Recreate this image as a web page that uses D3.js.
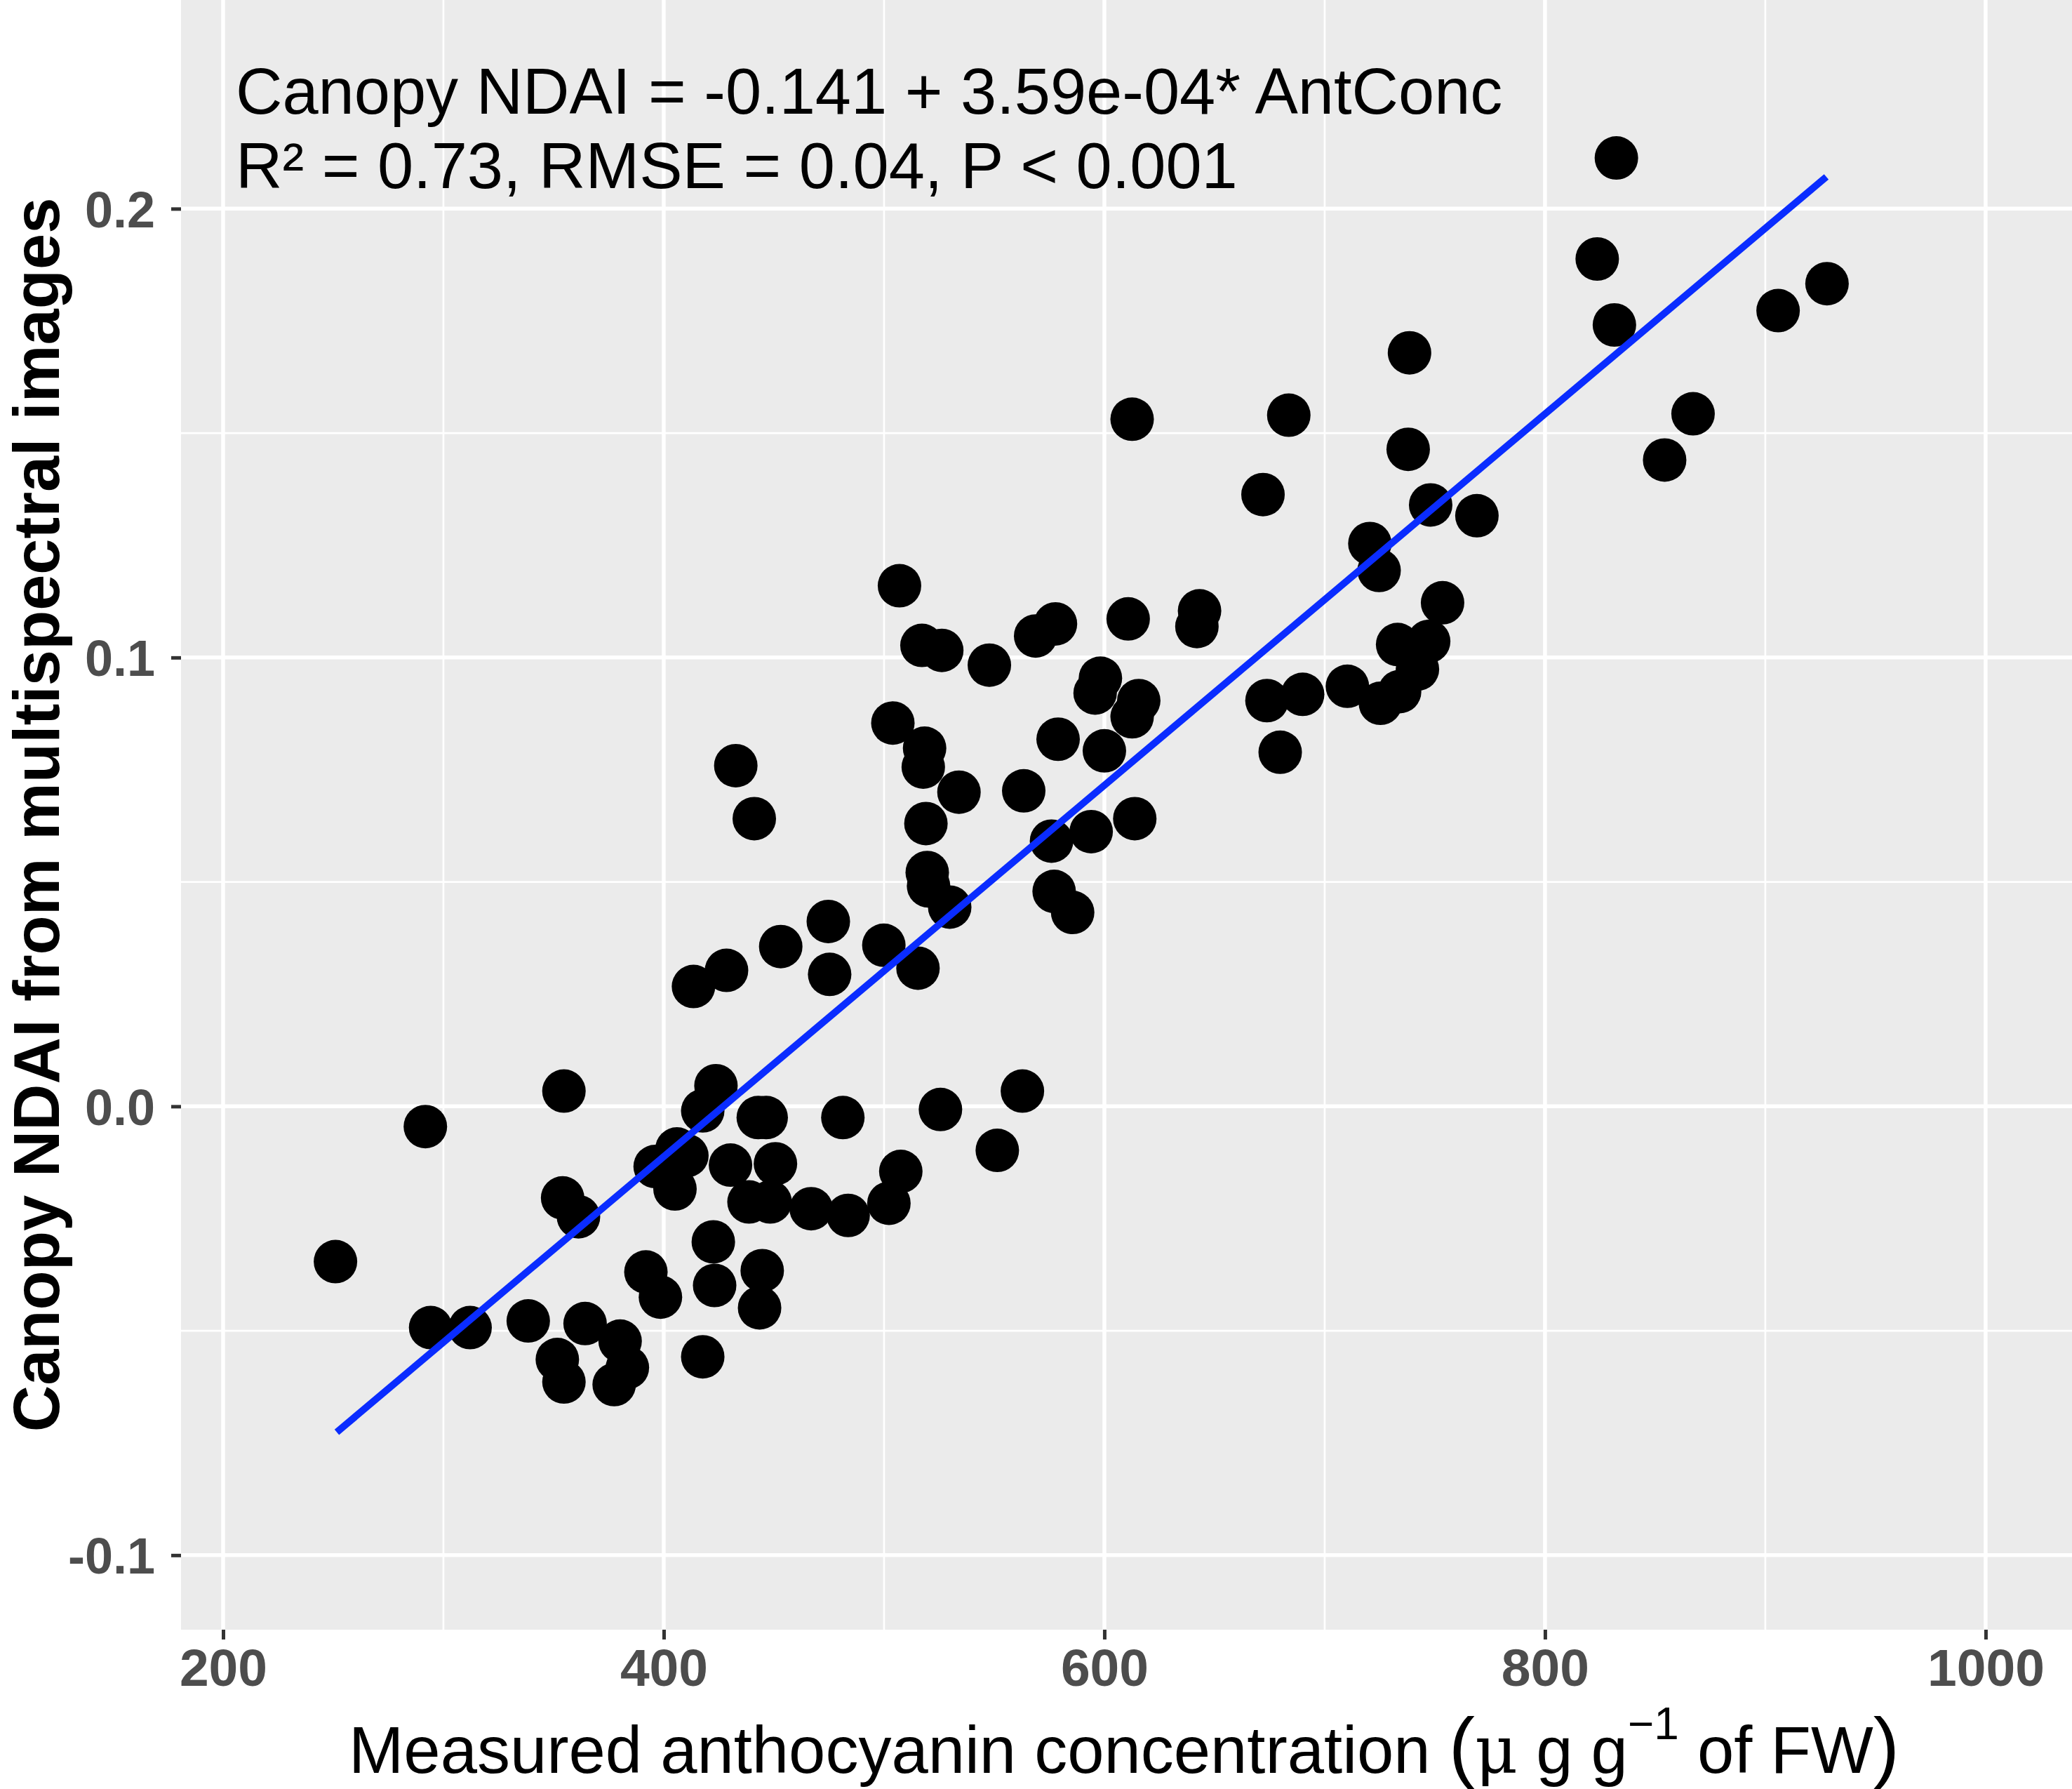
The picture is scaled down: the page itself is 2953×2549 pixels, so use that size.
<!DOCTYPE html>
<html>
<head>
<meta charset="utf-8">
<script src="https://cdn.jsdelivr.net/npm/d3@7"></script>
<style>
  html, body { margin: 0; padding: 0; background: #fff; }
  svg { display: block; }
</style>
</head>
<body>
<div id="chart"></div>
<script>
// Veri (okunan degerler)
const antConc = [
  251.0, 291.8, 294.2, 312.1, 338.5, 354.7, 354.1, 361.3, 351.7, 354.7,
  364.3, 380.2, 377.5, 383.5, 391.9, 398.5, 396.1, 405.1, 406.0, 410.5,
  417.7, 423.7, 422.5, 423.1, 417.7, 430.3, 438.7, 442.9, 446.5, 450.7,
  448.3, 444.7, 443.5, 466.9, 481.3, 483.7, 502.2, 507.6, 525.6, 551.4,
  562.8,
  413.5, 428.5, 453.1, 474.7, 475.3, 499.9, 515.4, 529.8, 520.2, 519.6,
  519.0, 504.0, 518.4, 517.8, 534.0, 563.4, 576.0, 577.2, 585.6, 594.0,
  432.7, 441.1,
  507.0, 517.2, 526.2, 547.8, 568.8, 577.8, 579.0, 600.0, 595.8, 598.2,
  612.6, 615.6, 610.8, 612.6, 613.8, 642.0, 643.2, 672.0, 673.8, 679.8,
  683.7, 690.0, 710.3, 720.5, 724.7, 725.3, 734.0, 733.1,
  742.1, 747.2, 753.5, 748.1, 737.9, 738.5, 769.1, 823.7, 831.5, 832.4,
  854.3, 867.2, 905.8, 928.0
];
const ndai = [
  -0.0346, -0.0045, -0.0493, -0.0493, -0.0478, 0.0034, -0.0204, -0.0246, -0.0564, -0.0614,
  -0.0484, -0.0523, -0.0620, -0.0582, -0.0369, -0.0425, -0.0134, -0.0184, -0.0095, -0.0110,
  -0.0010, 0.0046, -0.0302, -0.0399, -0.0558, -0.0131, -0.0213, -0.0025, -0.0025, -0.0128,
  -0.0213, -0.0366, -0.0449, -0.0228, -0.0025, -0.0243, -0.0216, -0.0145, -0.0007, -0.0098,
  0.0034,
  0.0267, 0.0303, 0.0356, 0.0412, 0.0294, 0.0359, 0.0308, 0.0444, 0.0491, 0.0521,
  0.0630, 0.0854, 0.0798, 0.0756, 0.0700, 0.0703, 0.0591, 0.0479, 0.0432, 0.0612,
  0.0759, 0.0641,
  0.1160, 0.1027, 0.1016, 0.0983, 0.1048, 0.1075, 0.0818, 0.0792, 0.0921, 0.0954,
  0.0868, 0.0904, 0.1086, 0.1531, 0.0641, 0.1069, 0.1104, 0.1363, 0.0904, 0.0789,
  0.1540, 0.0918, 0.0936, 0.1254, 0.1194, 0.0898, 0.0924, 0.1029,
  0.0974, 0.1036, 0.1122, 0.1340, 0.1464, 0.1679, 0.1316, 0.1888, 0.1741, 0.2113,
  0.1440, 0.1543, 0.1773, 0.1833
];

// Regresyon cizgisi uc noktalari
const fitX = [251.6, 927.7];
const fitY = [-0.0726, 0.2071];

// Eksen degerleri
const xTicks = [200, 400, 600, 800, 1000];
const xMinor = [300, 500, 700, 900];
const yTicks = [-0.1, 0.0, 0.1, 0.2];
const yMinor = [-0.05, 0.05, 0.15];
const yTickLabels = ["-0.1", "0.0", "0.1", "0.2"];

const annotLines = [
  "Canopy NDAI = -0.141 + 3.59e-04* AntConc",
  "R\u00B2 = 0.73, RMSE = 0.04, P < 0.001"
];

const width = 2953, height = 2549;
const margin = { top: 0, right: 0, bottom: 227, left: 258 };
const w = width - margin.left - margin.right;
const h = height - margin.top - margin.bottom;

const svg = d3.select("#chart")
  .append("svg")
  .attr("width", width)
  .attr("height", height)
  .attr("viewBox", `0 0 ${width} ${height}`);

svg.append("rect").attr("width", width).attr("height", height).attr("fill", "#fff");

const g = svg.append("g").attr("transform", `translate(${margin.left},${margin.top})`);

// Scale
const x = d3.scaleLinear().domain([180.9, 1039.2]).range([0, w]);
const y = d3.scaleLinear().domain([-0.1166, 0.2465]).range([h, 0]);

// Panel arka plan
g.append("rect").attr("width", w).attr("height", h).attr("fill", "#EBEBEB");

// Izgara - minor
g.append("g").selectAll("line").data(xMinor).enter().append("line")
  .attr("x1", d => x(d)).attr("x2", d => x(d)).attr("y1", 0).attr("y2", h)
  .attr("stroke", "#fff").attr("stroke-width", 2.7);
g.append("g").selectAll("line").data(yMinor).enter().append("line")
  .attr("y1", d => y(d)).attr("y2", d => y(d)).attr("x1", 0).attr("x2", w)
  .attr("stroke", "#fff").attr("stroke-width", 2.7);

// Izgara - major
g.append("g").selectAll("line").data(xTicks).enter().append("line")
  .attr("x1", d => x(d)).attr("x2", d => x(d)).attr("y1", 0).attr("y2", h)
  .attr("stroke", "#fff").attr("stroke-width", 5.5);
g.append("g").selectAll("line").data(yTicks).enter().append("line")
  .attr("y1", d => y(d)).attr("y2", d => y(d)).attr("x1", 0).attr("x2", w)
  .attr("stroke", "#fff").attr("stroke-width", 5.5);

// Noktalar
const pts = antConc.map((v, i) => ({ x: v, y: ndai[i] }));
g.append("g").selectAll("circle").data(pts).enter().append("circle")
  .attr("cx", d => x(d.x))
  .attr("cy", d => y(d.y))
  .attr("r", 31)
  .attr("fill", "#000");

// Regresyon cizgisi
const line = d3.line().x(d => x(d[0])).y(d => y(d[1]));
g.append("path")
  .datum(fitX.map((v, i) => [v, fitY[i]]))
  .attr("d", line)
  .attr("fill", "none")
  .attr("stroke", "#0a2cff")
  .attr("stroke-width", 10);

// X ekseni
const xAxis = g.append("g")
  .attr("transform", `translate(0,${h})`)
  .call(d3.axisBottom(x).tickValues(xTicks).tickSize(14).tickPadding(13).tickFormat(d3.format("d")));
xAxis.select(".domain").remove();
xAxis.selectAll(".tick line").attr("stroke", "#333").attr("stroke-width", 5);
xAxis.selectAll("text")
  .style("font-family", "'Liberation Sans', Arial, sans-serif")
  .style("font-size", "75px")
  .style("font-weight", "700")
  .style("fill", "#4D4D4D");

// Y ekseni
const yAxis = g.append("g")
  .call(d3.axisLeft(y).tickValues(yTicks).tickSize(14).tickPadding(23).tickFormat((d, i) => yTickLabels[i]));
yAxis.select(".domain").remove();
yAxis.selectAll(".tick line").attr("stroke", "#333").attr("stroke-width", 5);
yAxis.selectAll("text")
  .attr("dy", "0.36em")
  .style("font-family", "'Liberation Sans', Arial, sans-serif")
  .style("font-size", "72px")
  .style("font-weight", "700")
  .style("fill", "#4D4D4D");

// Denklem metni
const annot = g.append("text")
  .attr("x", 78)
  .attr("y", 162)
  .style("font-family", "'Liberation Sans', Arial, sans-serif")
  .style("font-size", "92px")
  .style("fill", "#000");
annot.selectAll("tspan").data(annotLines).enter().append("tspan")
  .attr("x", 78)
  .attr("dy", (d, i) => i === 0 ? 0 : 106)
  .text(d => d);

// Y baslik
svg.append("text")
  .attr("transform", `translate(84,${margin.top + h / 2}) rotate(-90)`)
  .attr("text-anchor", "middle")
  .style("font-family", "'Liberation Sans', Arial, sans-serif")
  .style("font-size", "92px")
  .style("font-weight", "700")
  .style("fill", "#000")
  .text("Canopy NDAI from multispectral images");

// X baslik (plotmath benzeri)
const xt = svg.append("text")
  .attr("x", 1602)
  .attr("y", 2526)
  .attr("text-anchor", "middle")
  .style("font-family", "'Liberation Sans', Arial, sans-serif")
  .style("font-size", "94px")
  .style("fill", "#000");
xt.append("tspan").text("Measured anthocyanin concentration ");
xt.append("tspan").style("font-size", "112px").text("(");
xt.append("tspan").style("font-family", "'DejaVu Serif', serif").text("\u03BC");
xt.append("tspan").text(" g g");
xt.append("tspan").attr("dy", -48).style("font-size", "64px").text("\u22121");
xt.append("tspan").attr("dy", 48).text(" of FW");
xt.append("tspan").style("font-size", "112px").text(")");
</script>
</body>
</html>
